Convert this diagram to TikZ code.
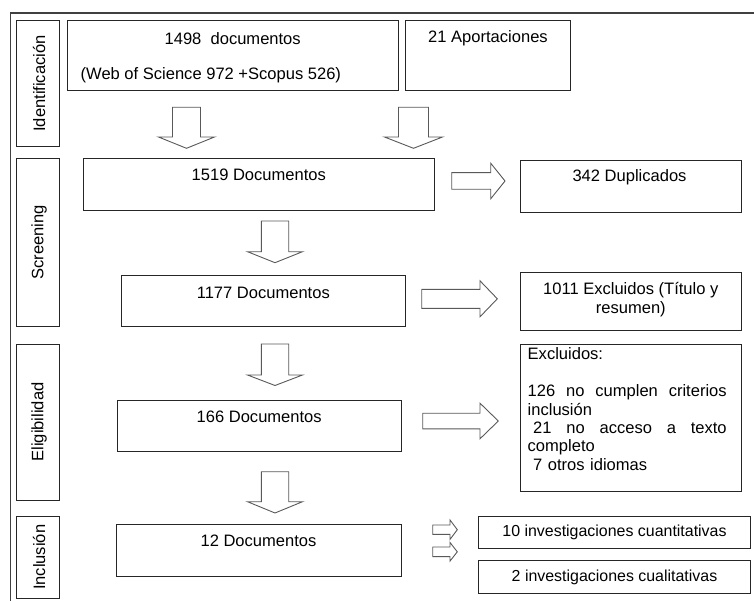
\documentclass[tikz,border=0pt]{standalone}
\usepackage{fontspec}
\setmainfont{Liberation Sans}
\tikzset{
  box/.style={draw=black!85, line width=0.9bp, inner sep=0pt, fill=white},
  phase/.style={box},
  txt/.style={inner sep=0pt, font=\fontsize{16.6}{18.5}\selectfont, text=black},
  smalltxt/.style={inner sep=0pt, font=\fontsize{16}{18}\selectfont, text=black},
  barrow/.style={draw=black!65, line width=0.9bp, fill=white, line join=miter},
  frame/.style={draw=black!75, line width=1.2bp}
}
\newcommand{\mkbox}[6]{% name, x1, y1, x2, y2, style
  \node[#6, minimum width={(#4-#2)*1bp}, minimum height={(#5-#3)*1bp}] (#1) at ({(#2+#4)/2},{(#3+#5)/2}) {};}
\newcommand{\blockdn}[6]{% cx, ytop, ybase, ytip, hs, hh
  \draw[barrow] (#1-#5,#2) -- (#1+#5,#2) -- (#1+#5,#3) -- (#1+#6,#3) -- (#1,#4) -- (#1-#6,#3) -- (#1-#5,#3) -- cycle;}
\newcommand{\blockrt}[6]{% cy, xleft, xbase, xtip, hs, hh
  \draw[barrow] (#2,#1-#5) -- (#3,#1-#5) -- (#3,#1-#6) -- (#4,#1) -- (#3,#1+#6) -- (#3,#1+#5) -- (#2,#1+#5) -- cycle;}
\newcommand{\jline}[1]{\leavevmode\hbox to 199bp{#1}}
\begin{document}
\begin{tikzpicture}[x=1bp,y=-1bp]
\useasboundingbox (0,0) rectangle (754,601);
% outer frame
\coordinate (fTR) at (754,13);
\coordinate (fTL) at (10.5,13);
\coordinate (fBL) at (10.5,601);
\draw[frame] (fTR) -- (fTL) -- (fBL);

% phase boxes
\mkbox{pId}{16.7}{20.7}{59.3}{146.7}{phase}
\mkbox{pSc}{16.7}{158.3}{59.3}{326.7}{phase}
\mkbox{pEl}{16.7}{344}{59.3}{500}{phase}
\mkbox{pIn}{16.7}{516}{59.3}{598.7}{phase}
\node[txt, rotate=90] (tId) at (39,83.5) {Identificación};
\node[txt, rotate=90] (tSc) at (39,242.5) {Screening};
\node[txt, rotate=90] (tEl) at (39,422) {Eligibilidad};
\node[txt, rotate=90] (tIn) at (39,557.3) {Inclusión};

% identification
\mkbox{b1498}{67}{20.7}{398.3}{90.7}{box}
\node[txt] (t1498a) at (232.7,38.5) {1498\ \ documentos};
\node[txt, anchor=west] (t1498b) at (80.5,75) {(Web of Science 972 +Scopus 526)};
\mkbox{b21}{405}{20.7}{570.7}{90.7}{box}
\node[txt] (t21) at (488,38.5) {21 Aportaciones};
\blockdn{186.5}{107.3}{137}{148.3}{14}{28}
\blockdn{413.5}{107.3}{137}{148.3}{15}{29}

% screening
\mkbox{b1519}{83.3}{158.3}{434.3}{210}{box}
\node[txt] (t1519) at (258.8,175) {1519 Documentos};
\mkbox{b342}{520}{160.7}{741.7}{212.7}{box}
\node[txt] (t342) at (629.5,177.7) {342 Duplicados};
\blockrt{181}{451.7}{490.7}{505}{8.3}{17.8}
\blockdn{275}{221}{251.7}{262.7}{13.7}{27.5}
\mkbox{b1177}{121}{275}{405.7}{326.7}{box}
\node[txt] (t1177) at (263.3,292.5) {1177 Documentos};
\mkbox{b1011}{520}{272.7}{741.7}{330}{box}
\node[txt, align=center] (t1011) at (630.8,299.5) {1011 Excluidos (Título y\\resumen)};
\blockrt{298.8}{421.7}{480}{497.3}{9.5}{18}

% eligibility
\blockdn{275}{344}{375}{385.5}{13.7}{27.5}
\mkbox{b166}{117.3}{400}{401}{451.7}{box}
\node[txt] (t166) at (259.2,417.3) {166 Documentos};
\blockrt{421}{422.7}{480}{498.3}{7.8}{17.8}
\mkbox{bExc}{520}{344}{741.7}{491.7}{box}
\node[txt, anchor=north west, text width=199bp, align=left] (tExc) at (527.5,347.5) {%
Excluidos:\\[18.5bp]
\jline{126\hfill no\hfill cumplen\hfill criterios}\\
inclusión\\
\jline{\ 21\hfill no\hfill acceso\hfill a\hfill texto}\\
completo\\
\ 7 otros idiomas};

% inclusion
\blockdn{275}{471.7}{501.7}{513}{13.7}{27.5}
\mkbox{b12}{116}{524}{401}{576}{box}
\node[txt] (t12) at (258.5,540.7) {12 Documentos};
\blockrt{529.7}{432.7}{450}{457.3}{4.7}{9.7}
\blockrt{551.8}{432.7}{450}{457.3}{4.8}{9.3}
\mkbox{b10}{478.5}{516.7}{750.3}{548.3}{box}
\node[smalltxt] (t10) at (614.5,532) {10 investigaciones cuantitativas};
\mkbox{b2}{478.5}{560.7}{750.3}{593.3}{box}
\node[smalltxt] (t2) at (614.5,577) {2 investigaciones cualitativas};
\end{tikzpicture}
\end{document}
